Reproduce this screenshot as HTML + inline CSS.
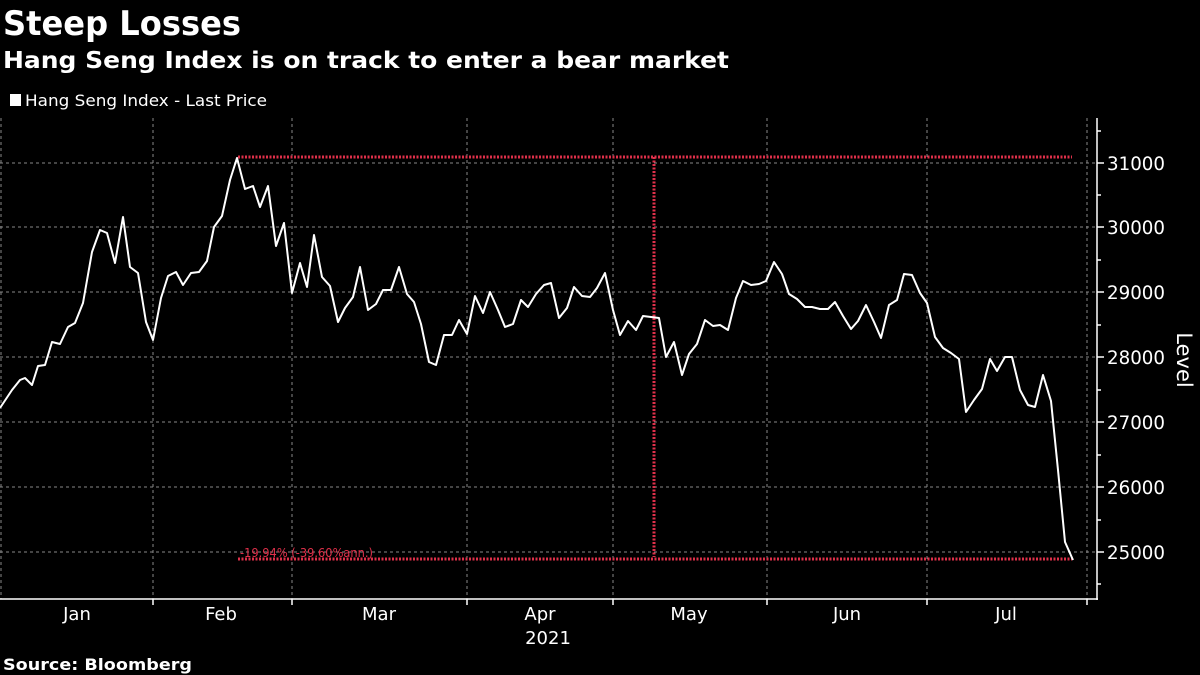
<!DOCTYPE html>
<html><head><meta charset="utf-8"><style>
body{margin:0;background:#000;width:1200px;height:675px;overflow:hidden}
svg{display:block}
text{font-family:"DejaVu Sans","Liberation Sans",sans-serif;fill:#fff}
</style></head><body>
<svg width="1200" height="675" viewBox="0 0 1200 675">
<rect width="1200" height="675" fill="#000"/>
<text x="3" y="35" font-size="34" font-weight="bold" textLength="238" lengthAdjust="spacingAndGlyphs">Steep Losses</text>
<text x="3" y="68" font-size="23" font-weight="bold" textLength="726" lengthAdjust="spacingAndGlyphs">Hang Seng Index is on track to enter a bear market</text>
<rect x="10" y="94" width="11" height="12" fill="#fff"/>
<text x="25" y="106" font-size="16" textLength="242" lengthAdjust="spacingAndGlyphs">Hang Seng Index - Last Price</text>
<g stroke="#888" stroke-width="1" stroke-dasharray="3,3">
<line x1="0" y1="163" x2="1097" y2="163"/><line x1="0" y1="227" x2="1097" y2="227"/>
<line x1="0" y1="292" x2="1097" y2="292"/><line x1="0" y1="357" x2="1097" y2="357"/>
<line x1="0" y1="422" x2="1097" y2="422"/><line x1="0" y1="487" x2="1097" y2="487"/>
<line x1="0" y1="552" x2="1097" y2="552"/>
<line x1="1" y1="118" x2="1" y2="599"/><line x1="153" y1="118" x2="153" y2="599"/>
<line x1="292" y1="118" x2="292" y2="599"/><line x1="467" y1="118" x2="467" y2="599"/>
<line x1="613" y1="118" x2="613" y2="599"/><line x1="767" y1="118" x2="767" y2="599"/>
<line x1="927" y1="118" x2="927" y2="599"/><line x1="1087" y1="118" x2="1087" y2="599"/>
</g>
<g stroke="#e0304a" stroke-width="3" stroke-dasharray="2,1.5" fill="none">
<line x1="238" y1="157" x2="1072" y2="157"/>
<line x1="238" y1="559" x2="1072" y2="559"/>
<line x1="654" y1="157" x2="654" y2="557"/>
</g>
<text x="240" y="557" font-size="12" style="fill:#e0304a" textLength="133" lengthAdjust="spacingAndGlyphs">-19.94% (-39.60%ann.)</text>
<polyline fill="none" stroke="#fff" stroke-width="2" stroke-linejoin="round" points="0,408 12,390 20,380 25,378 32,385 38,366 45,365 52,342 60,344 68,327 75,323 83,303 92,252 100,230 107,233 115,263 123,217 130,267 138,273 146,322 153,340 161,298 168,276 176,272 183,285 191,273 199,272 207,261 214,227 222,216 230,180 237,158 245,189 253,186 260,207 268,186 276,246 284,223 292,293 300,263 307,287 314,235 322,277 330,286 338,322 345,308 353,297 360,267 368,310 376,304 383,290 391,290 399,267 407,294 414,302 421,324 429,362 436,365 444,335 452,335 459,320 467,334 475,296 483,313 490,292 498,310 505,327 513,324 521,300 528,307 536,294 544,285 551,283 559,318 567,308 574,287 582,296 590,297 597,288 605,273 613,310 620,335 628,321 636,330 643,316 651,317 659,318 666,357 674,342 682,375 689,354 697,344 705,320 713,326 720,325 728,330 736,298 743,281 751,285 759,284 766,281 774,262 782,274 789,294 797,299 805,307 812,307 820,309 828,309 835,302 843,316 851,329 858,321 866,305 874,322 881,338 889,305 897,300 904,274 912,275 920,293 927,303 935,337 943,348 951,353 959,359 966,412 974,400 982,389 990,359 997,371 1005,357 1012,357 1020,390 1028,405 1035,407 1043,375 1051,401 1058,470 1065,542 1073,560"/>
<g stroke="#fff" stroke-width="1.5">
<line x1="0" y1="599" x2="1098" y2="599"/>
<line x1="1097" y1="118" x2="1097" y2="600"/>
<line x1="153" y1="599" x2="153" y2="605"/><line x1="292" y1="599" x2="292" y2="605"/>
<line x1="467" y1="599" x2="467" y2="605"/><line x1="613" y1="599" x2="613" y2="605"/>
<line x1="767" y1="599" x2="767" y2="605"/><line x1="927" y1="599" x2="927" y2="605"/>
<line x1="1087" y1="599" x2="1087" y2="605"/>
<line x1="1097" y1="131" x2="1101" y2="131"/><line x1="1097" y1="195" x2="1101" y2="195"/>
<line x1="1097" y1="260" x2="1101" y2="260"/><line x1="1097" y1="325" x2="1101" y2="325"/>
<line x1="1097" y1="390" x2="1101" y2="390"/><line x1="1097" y1="455" x2="1101" y2="455"/>
<line x1="1097" y1="520" x2="1101" y2="520"/><line x1="1097" y1="584" x2="1101" y2="584"/>
<line x1="1097" y1="163" x2="1104" y2="163"/><line x1="1097" y1="227" x2="1104" y2="227"/>
<line x1="1097" y1="292" x2="1104" y2="292"/><line x1="1097" y1="357" x2="1104" y2="357"/>
<line x1="1097" y1="422" x2="1104" y2="422"/><line x1="1097" y1="487" x2="1104" y2="487"/>
<line x1="1097" y1="552" x2="1104" y2="552"/>
</g>
<g font-size="19">
<text x="1107" y="170" textLength="58" lengthAdjust="spacingAndGlyphs">31000</text><text x="1107" y="234" textLength="58" lengthAdjust="spacingAndGlyphs">30000</text>
<text x="1107" y="299" textLength="58" lengthAdjust="spacingAndGlyphs">29000</text><text x="1107" y="364" textLength="58" lengthAdjust="spacingAndGlyphs">28000</text>
<text x="1107" y="429" textLength="58" lengthAdjust="spacingAndGlyphs">27000</text><text x="1107" y="494" textLength="58" lengthAdjust="spacingAndGlyphs">26000</text>
<text x="1107" y="559" textLength="58" lengthAdjust="spacingAndGlyphs">25000</text>
</g>
<text transform="translate(1177,360) rotate(90)" font-size="21" text-anchor="middle">Level</text>
<g font-size="18" text-anchor="middle">
<text x="77" y="620">Jan</text><text x="221" y="620">Feb</text><text x="379" y="620">Mar</text>
<text x="540" y="620">Apr</text><text x="689" y="620">May</text><text x="847" y="620">Jun</text>
<text x="1006" y="620">Jul</text><text x="548" y="644">2021</text>
</g>
<text x="3" y="670" font-size="16" font-weight="bold" textLength="189" lengthAdjust="spacingAndGlyphs">Source: Bloomberg</text>
</svg>
</body></html>
